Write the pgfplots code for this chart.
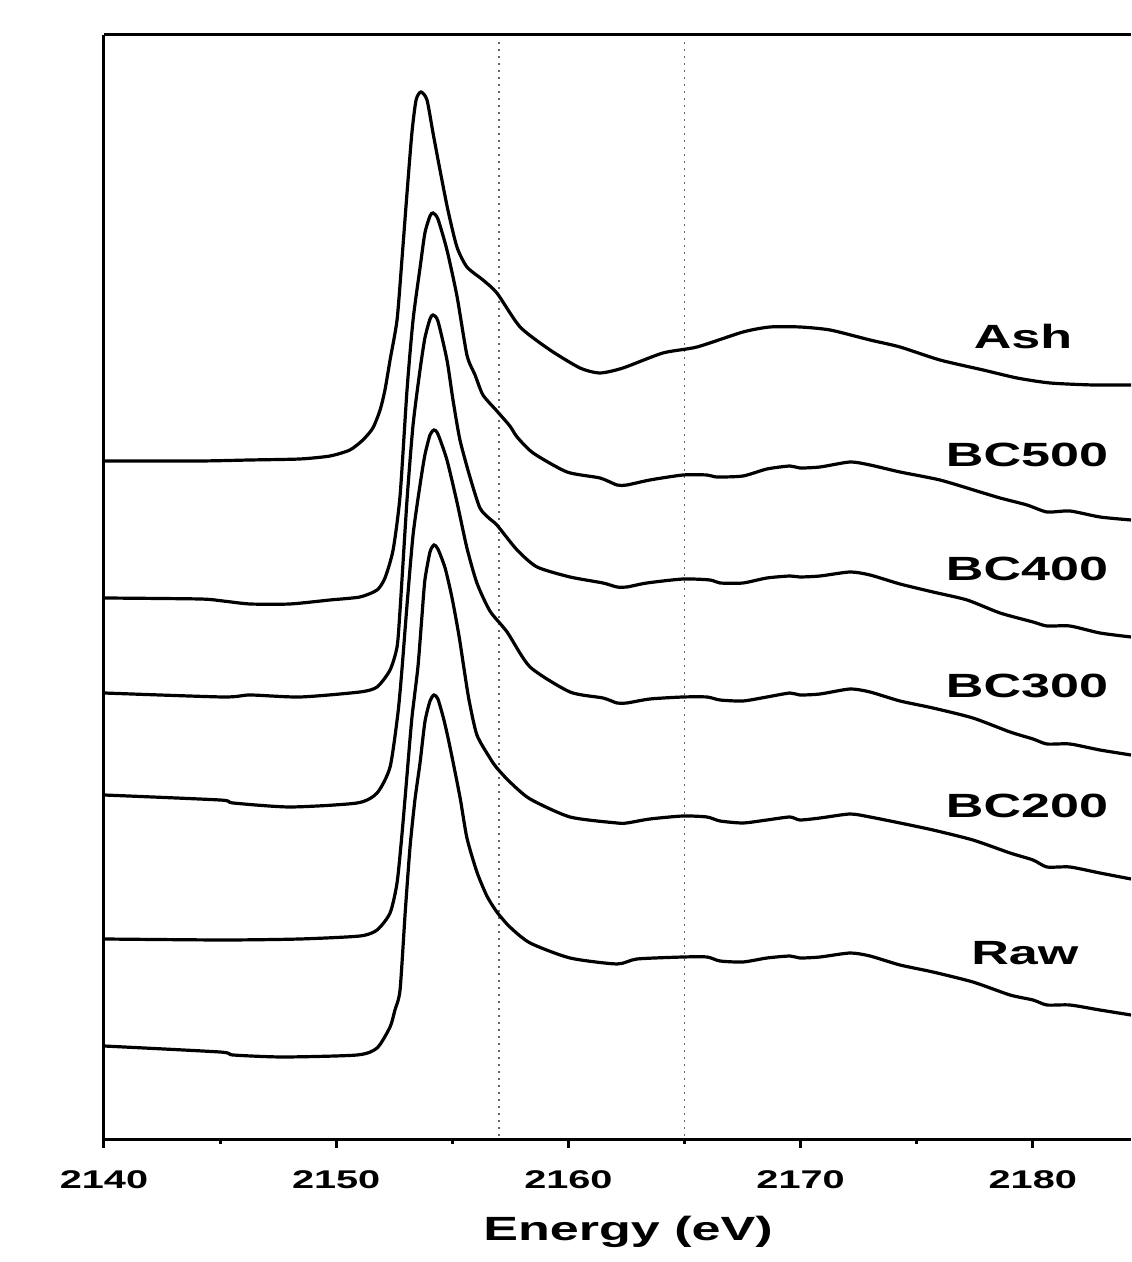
\documentclass[border=0pt]{standalone}
\usepackage{pgfplots}
\pgfplotsset{compat=1.18}
\usepackage{fontspec}
\setmainfont{Liberation Sans}[FakeStretch=1.55]
\tikzset{lbl/.style={font=\bfseries\fontsize{16.8}{18}\selectfont, inner sep=0pt}}
\pgfplotsset{curve/.style={black, solid, line width=1.6pt, no markers, smooth, tension=0.4}}

\pgfplotstableread{
x y
2140.00 679
2144.13 679
2146.29 680
2148.44 681
2149.73 684
2150.59 690
2151.15 700
2151.58 712
2151.89 730
2152.10 750
2152.32 780
2152.62 820
2152.83 880
2153.05 947
2153.26 1007
2153.44 1040
2153.65 1048
2153.91 1040
2154.17 1007
2154.47 970
2154.81 930
2155.20 893
2155.63 873
2156.32 860
2156.92 847
2157.92 813
2159.21 790
2160.50 772
2161.36 767
2162.35 772
2164.07 787
2165.54 793
2167.52 808
2168.68 813
2169.97 813
2171.27 810
2172.99 800
2174.28 793
2176.00 780
2177.86 770
2179.32 762
2180.74 757
2182.59 755
2184.23 755
}\ash

\pgfplotstableread{
x y
2140.00 542
2144.13 541
2145.12 539
2146.29 536
2148.01 536
2149.73 540
2151.02 543
2151.76 550
2152.10 562
2152.45 590
2152.75 644
2153.05 750
2153.31 820
2153.61 872
2153.82 907
2154.04 924
2154.17 927
2154.38 921
2154.77 890
2155.20 844
2155.63 785
2155.98 765
2156.32 745
2156.92 729
2157.48 714
2157.79 703
2158.48 687
2159.94 668
2161.36 662
2162.09 655
2162.52 655
2163.51 660
2164.94 665
2165.97 665
2166.40 663
2167.52 664
2168.55 671
2169.54 674
2169.97 672
2170.84 673
2172.13 678
2172.99 675
2174.28 668
2176.00 660
2177.73 648
2178.59 642
2179.75 635
2180.61 628
2181.60 629
2182.89 623
2184.23 620
}\bcfive

\pgfplotstableread{
x y
2140.00 447
2145.12 443
2146.29 445
2148.44 443
2151.02 448
2151.76 453
2152.32 470
2152.62 493
2152.75 530
2153.05 640
2153.31 715
2153.61 770
2153.82 802
2154.04 821
2154.17 825
2154.38 819
2154.77 780
2155.03 740
2155.33 700
2155.76 663
2156.19 632
2156.62 621
2156.92 615
2157.79 590
2158.65 573
2160.07 563
2161.49 557
2162.09 553
2162.52 553
2163.38 557
2164.94 561
2166.10 560
2166.53 557
2167.52 557
2168.55 562
2169.54 564
2169.97 563
2170.84 564
2172.13 568
2172.99 565
2174.28 556
2175.70 548
2177.17 540
2178.59 527
2180.01 518
2180.61 514
2181.60 514
2182.89 507
2184.23 503
}\bcfour

\pgfplotstableread{
x y
2140.00 345
2144.99 340
2145.56 337
2148.01 333
2150.90 337
2151.76 347
2152.32 373
2152.66 427
2152.83 470
2153.05 535
2153.31 605
2153.61 655
2153.82 685
2154.04 705
2154.21 710
2154.38 706
2154.77 680
2155.20 638
2155.63 592
2156.06 557
2156.62 529
2157.36 508
2158.35 473
2160.07 448
2161.49 442
2162.09 437
2162.52 437
2163.51 441
2164.94 443
2165.97 443
2166.53 440
2167.52 439
2168.55 443
2169.54 447
2169.97 445
2170.84 446
2172.13 451
2172.99 448
2174.28 439
2175.70 432
2177.42 422
2179.02 408
2180.01 401
2180.61 396
2181.60 396
2182.89 390
2184.23 385
}\bcthree

\pgfplotstableread{
x y
2140.00 201
2145.12 200
2148.44 201
2151.02 204
2151.76 210
2152.32 227
2152.62 257
2152.83 305
2153.05 365
2153.26 422
2153.52 473
2153.69 523
2153.82 560
2154.04 588
2154.21 595
2154.38 591
2154.69 572
2154.99 542
2155.29 504
2155.50 472
2155.72 440
2156.06 405
2156.62 382
2156.92 372
2157.48 358
2158.35 341
2160.07 323
2162.09 317
2162.52 317
2163.51 321
2164.94 324
2165.97 323
2166.53 319
2167.52 317
2168.55 320
2169.54 323
2169.97 320
2170.84 322
2172.13 326
2172.99 323
2174.28 317
2175.70 310
2177.42 300
2179.02 287
2180.01 280
2180.61 273
2181.60 273
2182.89 267
2184.23 261
}\bctwo

\pgfplotstableread{
x y
2140.00 94
2144.99 88
2145.56 85
2147.71 83
2150.90 85
2151.76 92
2152.32 113
2152.53 130
2152.75 150
2152.97 227
2153.18 293
2153.39 340
2153.61 377
2153.82 418
2154.04 439
2154.21 445
2154.38 441
2154.64 420
2154.90 393
2155.33 343
2155.63 302
2156.06 268
2156.49 244
2156.92 228
2157.48 213
2158.35 197
2160.07 182
2162.09 176
2162.95 181
2164.94 183
2165.97 183
2166.53 179
2167.52 178
2168.55 182
2169.54 184
2169.97 182
2170.84 183
2172.13 187
2172.99 184
2174.28 175
2175.70 168
2177.42 158
2179.02 145
2180.01 140
2180.61 135
2181.60 135
2182.89 130
2184.23 125
}\raw

\begin{document}
\begin{tikzpicture}
\begin{axis}[
  name=ax,
  scale only axis,
  width=513.5pt, height=552.5pt,
  xmin=2140, xmax=2184.23,
  ymin=0, ymax=1105,
  axis x line*=box,
  axis y line*=left,
  axis line style={line width=1.5pt},
  xtick={2140,2150,2160,2170,2180},
  minor x tick num=1,
  xtick pos=left,
  xtick align=outside,
  ytick=\empty,
  major tick length=4pt,
  minor tick length=2pt,
  every tick/.style={black, line width=1.5pt},
  /pgf/number format/assume math mode=true,
  x tick label style={/pgf/number format/1000 sep={}, font=\bfseries\fontsize{12.8}{14}\selectfont, yshift=-8pt},
  clip mode=individual,
]
\addplot[black!60, line width=0.9pt, dash pattern=on 0.8pt off 2.7pt, no markers] coordinates {(2157,4) (2157,1101)};
\addplot[black!60, line width=0.9pt, dash pattern=on 0.8pt off 2.7pt, no markers] coordinates {(2165,4) (2165,1101)};
\addplot[curve] table[x=x,y=y] {\ash};
\addplot[curve] table[x=x,y=y] {\bcfive};
\addplot[curve] table[x=x,y=y] {\bcfour};
\addplot[curve] table[x=x,y=y] {\bcthree};
\addplot[curve] table[x=x,y=y] {\bctwo};
\addplot[curve] table[x=x,y=y] {\raw};
\node[lbl] at (axis cs:2179.58,803) {Ash};
\node[lbl] at (axis cs:2179.75,685) {BC500};
\node[lbl] at (axis cs:2179.75,571) {BC400};
\node[lbl] at (axis cs:2179.75,454) {BC300};
\node[lbl] at (axis cs:2179.75,334) {BC200};
\node[lbl] at (axis cs:2179.66,187) {Raw};
\end{axis}
\node[font=\bfseries\fontsize{16.8}{18}\selectfont, inner sep=0pt] at ([shift={(262pt,-46pt)}]ax.south west) {Energy (eV)};
\pgfresetboundingbox
\path ([shift={(-52pt,-61pt)}]ax.south west) rectangle ([shift={(0pt,17.5pt)}]ax.north east);
\end{tikzpicture}
\end{document}
